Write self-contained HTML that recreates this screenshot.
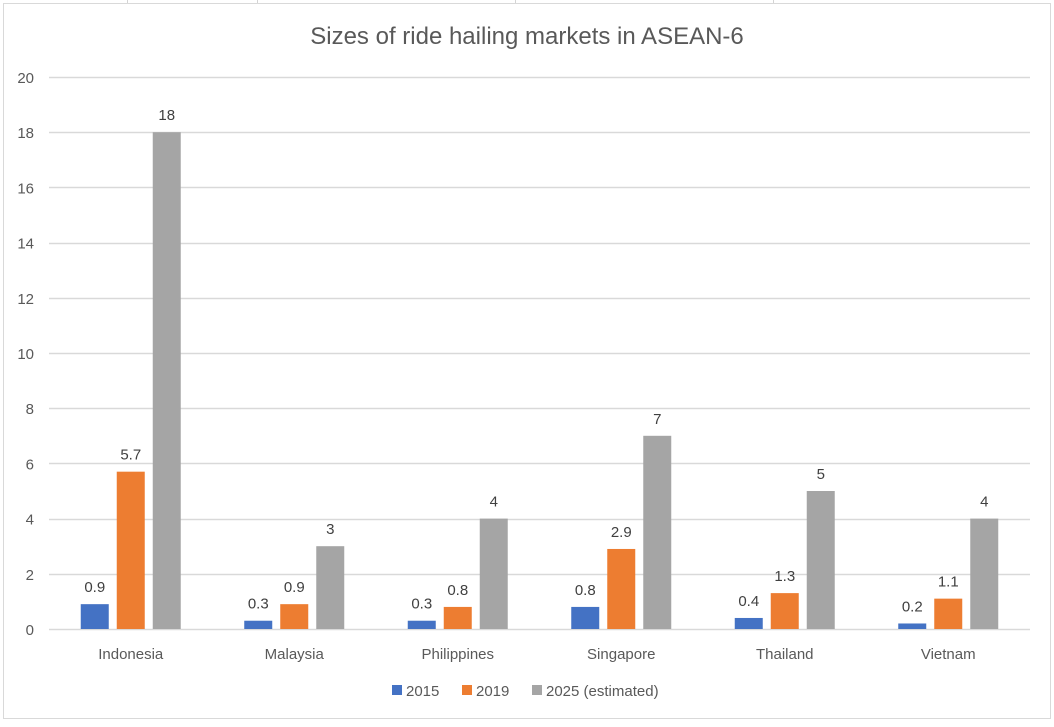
<!DOCTYPE html>
<html><head><meta charset="utf-8"><style>
body{margin:0;background:#fff;width:1054px;height:722px;overflow:hidden;font-family:"Liberation Sans",sans-serif;}
svg text{font-family:"Liberation Sans",sans-serif;}
</style></head><body>
<svg id="c" width="1054" height="722">
<g stroke="#d4d4d4" stroke-width="1">
<line x1="127.5" y1="0" x2="127.5" y2="3"/><line x1="257.5" y1="0" x2="257.5" y2="3"/>
<line x1="515.5" y1="0" x2="515.5" y2="3"/><line x1="773.5" y1="0" x2="773.5" y2="3"/>
</g>
<rect x="3.5" y="3.5" width="1047" height="715" fill="#fff" stroke="#d9d9d9"/>
<text x="527" y="44" text-anchor="middle" font-size="24" fill="#595959">Sizes of ride hailing markets in ASEAN-6</text>
<g id="grid"></g><g id="bars"></g>
<g font-size="15" fill="#595959">
<rect x="392" y="685" width="10" height="10" fill="#4472c4"/>
<text x="406" y="696">2015</text>
<rect x="462" y="685" width="10" height="10" fill="#ed7d31"/>
<text x="476" y="696">2019</text>
<rect x="532" y="685" width="10" height="10" fill="#a5a5a5"/>
<text x="546" y="696">2025 (estimated)</text>
</g>
</svg>
<script>
const categories=["Indonesia","Malaysia","Philippines","Singapore","Thailand","Vietnam"];
const s2015=[0.9,0.3,0.3,0.8,0.4,0.2];
const s2019=[5.7,0.9,0.8,2.9,1.3,1.1];
const s2025=[18,3,4,7,5,4];
const labels2015=["0.9","0.3","0.3","0.8","0.4","0.2"];
const labels2019=["5.7","0.9","0.8","2.9","1.3","1.1"];
const labels2025=["18","3","4","7","5","4"];
const yTicks=[0,2,4,6,8,10,12,14,16,18,20];
const NS="http://www.w3.org/2000/svg";
const x0=49,x1=1030,yTop=77,yBot=629,yMax=20;
const y=v=>yBot-(v/yMax)*(yBot-yTop);
const band=(x1-x0)/categories.length;
const cx=i=>x0+band*(i+0.5);
function mk(tag,attrs,parent,txt){const e=document.createElementNS(NS,tag);for(const k in attrs)e.setAttribute(k,attrs[k]);if(txt!==undefined)e.textContent=txt;parent.appendChild(e);return e;}
const grid=document.getElementById('grid'),bars=document.getElementById('bars');
yTicks.forEach(t=>{
  const l=mk('line',{x1:x0,x2:x1,y1:Math.round(y(t))+0.5,y2:Math.round(y(t))+0.5,stroke:'#d9d9d9','stroke-width':1.5},grid);
  
  
  const tx=mk('text',{x:34,y:y(t)+6,'text-anchor':'end','font-size':15,fill:'#595959'},grid,String(t));
  
  
});
const series=[[s2015,labels2015,'#4472c4','2015'],[s2019,labels2019,'#ed7d31','2019'],[s2025,labels2025,'#a5a5a5','2025']];
const bw=28,gap=8;
categories.forEach((c,i)=>{
  series.forEach((s,j)=>{
    const bx=cx(i)-bw*1.5-gap+j*(bw+gap);
    const v=s[0][i];
    const r=mk('rect',{x:bx,y:y(v),width:bw,height:yBot-y(v),fill:s[2]},bars);
    
    
    const t=mk('text',{x:bx+bw/2,y:y(v)-12,'text-anchor':'middle','font-size':15,fill:'#404040'},bars,s[1][i]);
    
    
  });
  const xl=mk('text',{x:cx(i),y:659,'text-anchor':'middle','font-size':15,fill:'#595959'},bars,c);
  
  
});
</script>
</body></html>
